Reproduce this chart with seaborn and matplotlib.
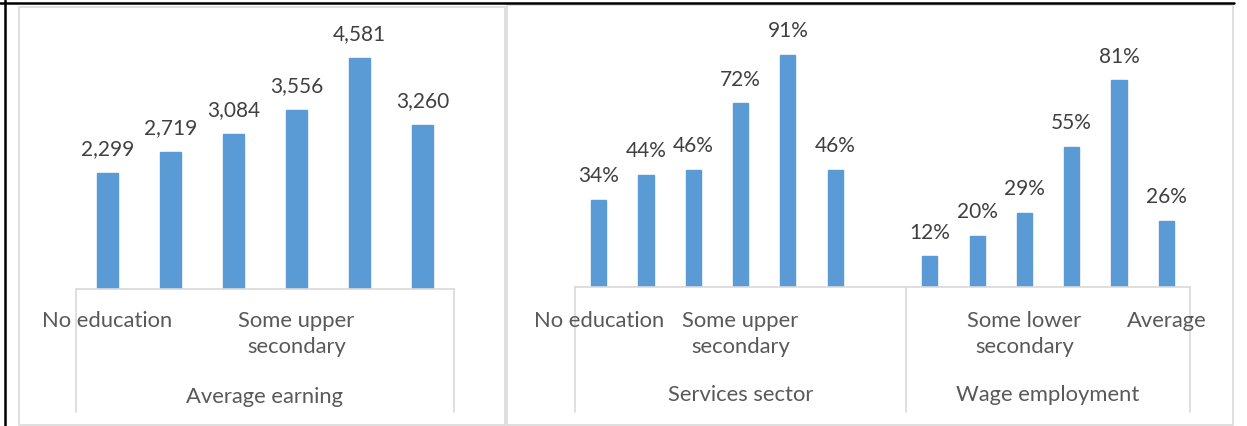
import numpy as np
import pandas as pd
import matplotlib
matplotlib.use("Agg")
import matplotlib.pyplot as plt
from matplotlib.patches import Rectangle
from matplotlib.lines import Line2D
import seaborn as sns

# --- DATA ---
levels = ['No education', 'Some primary', 'Some lower secondary',
          'Some upper secondary', 'Tertiary', 'Average']
earning = [2299, 2719, 3084, 3556, 4581, 3260]
services = [34, 44, 46, 72, 91, 46]
wage = [12, 20, 29, 55, 81, 26]

# only some level labels are visible in the original
earn_ticks = ['No education', '', '', 'Some upper\nsecondary', '', '']
services_ticks = ['No education', '', '', 'Some upper\nsecondary', '', '']
wage_ticks = ['', '', 'Some lower\nsecondary', '', '', 'Average']
groups = ['Average earning', 'Services sector', 'Wage employment']

# --- STYLING SETUP ---
sns.set_style('white')
plt.rcParams['font.family'] = ['Lato', 'DejaVu Sans']
plt.rcParams['font.size'] = 15

BLUE = '#5B9BD5'
GRID = '#D9D9D9'
LABEL = '#595959'
VALUE = '#404040'
CAT_SIZE = 15.8

W, H = 1247, 426
fig = plt.figure(figsize=(W / 100, H / 100), dpi=100)


def px_rect(x0, y0, x1, y1):
    # pixel box (top-left origin) -> figure fraction rect
    return [x0 / W, 1 - y1 / H, (x1 - x0) / W, (y1 - y0) / H]


def frame(x0, y0, x1, y1, color, lw):
    fig.patches.append(Rectangle((x0 / W, 1 - y1 / H), (x1 - x0) / W, (y1 - y0) / H,
                                 transform=fig.transFigure, fill=False,
                                 edgecolor=color, linewidth=lw))


def fig_line(x0, y0, x1, y1, color, lw):
    fig.add_artist(Line2D([x0 / W, x1 / W], [1 - y0 / H, 1 - y1 / H],
                          transform=fig.transFigure, color=color, linewidth=lw))


# chart area frames and the black table borders
frame(19, 7, 505, 425, GRID, 1.2)
frame(507, 5, 1233, 425, GRID, 1.2)
fig_line(0, 2.5, 1234, 2.5, 'black', 1.8)
fig_line(4.5, 0, 4.5, 426, 'black', 1.8)


def style_axes(ax, n, ymax, base_px, top_px):
    ax.set_xlim(-0.5, n - 0.5)
    ax.set_ylim(0, ymax)
    for s in ['top', 'left', 'right']:
        ax.spines[s].set_visible(False)
    ax.spines['bottom'].set_color(GRID)
    ax.spines['bottom'].set_linewidth(1.2)
    ax.set_xticks([])
    ax.set_yticks([])
    ax.set_xlabel('')
    ax.set_ylabel('')
    ax.patch.set_alpha(0)
    h = base_px - top_px
    return lambda y_px: -(y_px - base_px) / h  # pixel y -> axes fraction


def cat_labels(ax, to_frac, positions, labels):
    tr = ax.get_xaxis_transform()
    for x, lab in zip(positions, labels):
        if lab:
            ax.text(x, to_frac(311), lab, transform=tr, ha='center', va='top',
                    color=LABEL, fontsize=CAT_SIZE, linespacing=1.38)


def dividers(ax, to_frac, xs):
    tr = ax.get_xaxis_transform()
    for x in xs:
        ax.plot([x, x], [0, to_frac(412)], transform=tr, color=GRID,
                linewidth=1.2, clip_on=False)


# --- LEFT PANEL: Average earning ---
df_earn = pd.DataFrame({'level': levels, 'value': earning})
ax1 = fig.add_axes(px_rect(76, 37, 454, 289))
sns.barplot(data=df_earn, x='level', y='value', order=levels, color=BLUE,
            width=0.32, saturation=1, edgecolor=BLUE, ax=ax1)
ax1.bar_label(ax1.containers[0], labels=[f'{v:,.0f}' for v in earning],
              padding=10, color=VALUE, fontsize=15)
f1 = style_axes(ax1, 6, 5000, 289, 37)
cat_labels(ax1, f1, range(6), earn_ticks)
dividers(ax1, f1, [-0.5, 5.5])
ax1.text(2.5, f1(387), groups[0], transform=ax1.get_xaxis_transform(),
         ha='center', va='top', color=LABEL, fontsize=CAT_SIZE)

# --- RIGHT PANEL: Services sector / Wage employment ---
df_right = pd.DataFrame({
    'group': [groups[1]] * 6 + [groups[2]] * 6,
    'level': levels * 2,
    'value': services + wage,
})
df_right['slot'] = df_right['group'] + ' | ' + df_right['level']
order = [f'{groups[1]} | {l}' for l in levels] + ['gap'] + [f'{groups[2]} | {l}' for l in levels]

ax2 = fig.add_axes(px_rect(575, 32, 1190, 287))
sns.barplot(data=df_right, x='slot', y='value', order=order, color=BLUE,
            width=0.32, saturation=1, edgecolor=BLUE, ax=ax2)
ax2.bar_label(ax2.containers[0], labels=[f'{v:.0f}%' for v in services + wage],
              padding=10, color=VALUE, fontsize=15)
f2 = style_axes(ax2, 13, 100, 287, 32)
cat_labels(ax2, f2, range(6), services_ticks)
cat_labels(ax2, f2, range(7, 13), wage_ticks)
dividers(ax2, f2, [-0.5, 6.5, 12.5])
tr2 = ax2.get_xaxis_transform()
ax2.text(3.0, f2(385), groups[1], transform=tr2, ha='center', va='top',
         color=LABEL, fontsize=CAT_SIZE)
ax2.text(9.5, f2(385), groups[2], transform=tr2, ha='center', va='top',
         color=LABEL, fontsize=CAT_SIZE)

fig.savefig('out.png', dpi=100)
